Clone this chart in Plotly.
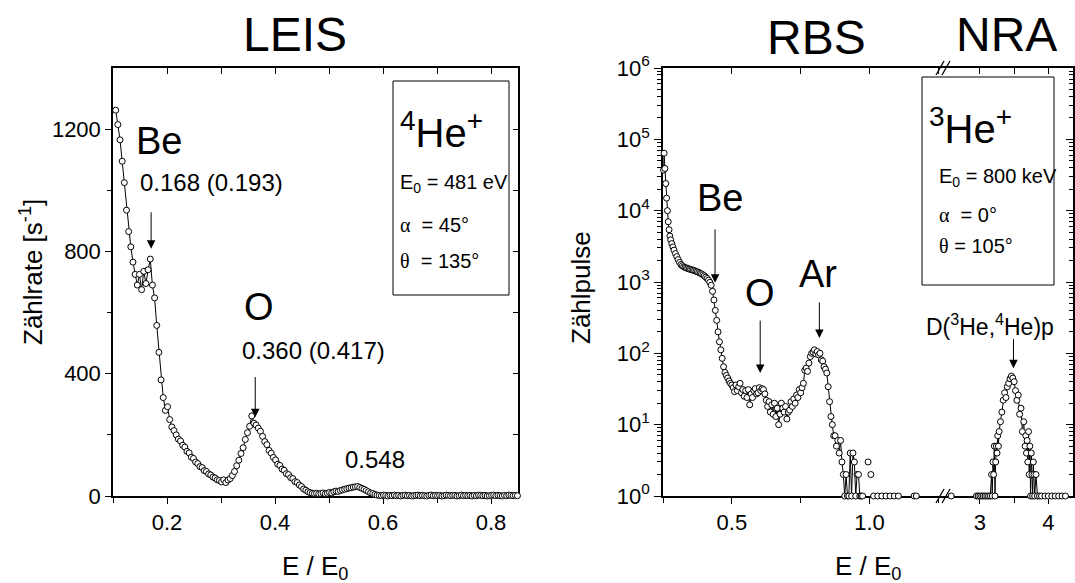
import math
import plotly.graph_objects as go

W, H = 1075, 583
FONT = "Liberation Sans, Arial, sans-serif"

# ---------------- data ----------------
# LEIS (left panel)
leis_x = [
    0.105, 0.109, 0.113, 0.117, 0.121, 0.125, 0.129, 0.133, 0.137, 0.141,
    0.145, 0.149, 0.153, 0.157, 0.161, 0.165, 0.169, 0.173, 0.177, 0.181,
    0.185, 0.189, 0.193, 0.197, 0.201, 0.205, 0.209, 0.213, 0.217, 0.221,
    0.225, 0.229, 0.233, 0.237, 0.241, 0.245, 0.249, 0.253, 0.257, 0.261,
    0.265, 0.269, 0.273, 0.277, 0.281, 0.285, 0.289, 0.293, 0.297, 0.301,
    0.305, 0.309, 0.313, 0.317, 0.321, 0.325, 0.329, 0.333, 0.337, 0.341,
    0.345, 0.349, 0.353, 0.357, 0.361, 0.365, 0.369, 0.373, 0.377, 0.381,
    0.385, 0.389, 0.393, 0.397, 0.401, 0.405, 0.409, 0.413, 0.417, 0.421,
    0.425, 0.429, 0.433, 0.437, 0.441, 0.445, 0.449, 0.453, 0.457, 0.461,
    0.465, 0.469, 0.473, 0.477, 0.481, 0.485, 0.489, 0.493, 0.497, 0.501,
    0.505, 0.509, 0.513, 0.517, 0.521, 0.525, 0.529, 0.533, 0.537, 0.541,
    0.545, 0.549, 0.553, 0.557, 0.561, 0.565, 0.569, 0.573, 0.577, 0.581,
    0.585, 0.589, 0.593, 0.597, 0.601, 0.605, 0.609, 0.613, 0.617, 0.621,
    0.625, 0.629, 0.633, 0.637, 0.641, 0.645, 0.649, 0.653, 0.657, 0.661,
    0.665, 0.669, 0.673, 0.677, 0.681, 0.685, 0.689, 0.693, 0.697, 0.701,
    0.705, 0.709, 0.713, 0.717, 0.721, 0.725, 0.729, 0.733, 0.737, 0.741,
    0.745, 0.749, 0.753, 0.757, 0.761, 0.765, 0.769, 0.773, 0.777, 0.781,
    0.785, 0.789, 0.793, 0.797, 0.801, 0.805, 0.809, 0.813, 0.817, 0.821,
    0.825, 0.829, 0.833, 0.837, 0.841, 0.845, 0.849,
]
leis_y = [
    1262, 1215, 1165, 1095, 1025, 935, 865, 815, 765, 725,
    690, 725, 675, 735, 695, 740, 775, 690, 648, 558,
    470, 380, 322, 280, 292, 250, 226, 214, 200, 186,
    180, 166, 160, 146, 141, 127, 123, 111, 106, 96,
    93, 83, 80, 72, 69, 62, 59, 53, 51, 46,
    53, 44, 52, 57, 67, 80, 99, 117, 139, 158,
    185, 207, 228, 262, 238, 232, 222, 212, 195, 178,
    168, 149, 140, 126, 118, 104, 100, 88, 84, 73,
    70, 60, 57, 47, 44, 36, 31, 23, 19, 14,
    11, 9, 8, 9, 7, 8, 10, 7, 9, 12,
    10, 14, 16, 15, 18, 20, 22, 24, 26, 27,
    29, 30, 31, 28, 25, 22, 18, 14, 10, 8,
    5, 3, 2, 1, 3, 2, 0, 2, 1, 3,
    1, 2, 0, 2, 3, 1, 2, 0, 1, 2,
    3, 1, 2, 1, 0, 2, 3, 1, 2, 1,
    2, 0, 1, 3, 2, 1, 2, 2, 0, 1,
    3, 1, 2, 1, 2, 0, 2, 1, 3, 2,
    1, 2, 0, 1, 2, 3, 1, 2, 1, 0,
    2, 1, 3, 2, 1, 2, 1,
]

# RBS (right panel, left segment)
rbs_x = [
    0.252, 0.254, 0.257, 0.260, 0.263, 0.266, 0.269, 0.272, 0.275, 0.278,
    0.282, 0.286, 0.290, 0.295, 0.300, 0.305, 0.310, 0.315, 0.320, 0.325,
    0.330, 0.335, 0.340, 0.345, 0.350, 0.355, 0.360, 0.365, 0.370, 0.375,
    0.380, 0.385, 0.390, 0.395, 0.400, 0.405, 0.410, 0.415, 0.420, 0.425,
    0.430, 0.435, 0.440, 0.445, 0.450, 0.455, 0.460, 0.465, 0.470, 0.475,
    0.480, 0.485, 0.490, 0.495, 0.500, 0.505, 0.510, 0.515, 0.520, 0.525,
    0.530, 0.535, 0.540, 0.545, 0.550, 0.555, 0.560, 0.565, 0.570, 0.575,
    0.580, 0.585, 0.590, 0.595, 0.600, 0.605, 0.610, 0.615, 0.620, 0.625,
    0.630, 0.635, 0.640, 0.645, 0.650, 0.655, 0.660, 0.665, 0.670, 0.675,
    0.680, 0.685, 0.690, 0.695, 0.700, 0.705, 0.710, 0.715, 0.720, 0.725,
    0.730, 0.735, 0.740, 0.745, 0.750, 0.755, 0.760, 0.765, 0.770, 0.775,
    0.780, 0.785, 0.790, 0.795, 0.800, 0.805, 0.810, 0.815, 0.820, 0.825,
    0.830, 0.835, 0.840, 0.845, 0.850, 0.855, 0.860, 0.865, 0.870, 0.875,
    0.880, 0.885, 0.890, 0.895, 0.900, 0.905, 0.910, 0.915, 0.920, 0.925,
    0.930, 0.935, 0.940, 0.945, 0.950, 0.955, 0.960, 0.965, 0.970, 0.975,
    0.980, 0.995, 1.000, 1.005, 1.010, 1.015, 1.030, 1.045, 1.060, 1.075,
    1.090, 1.105, 1.120, 1.162, 1.170,
]
rbs_y = [
    37000, 64000, 39000, 24000, 15000, 10000, 7000, 5400, 4400, 3900,
    3450, 3100, 2800, 2500, 2270, 2060, 1880, 1760, 1690, 1630,
    1600, 1570, 1545, 1520, 1500, 1480, 1460, 1440, 1410, 1390,
    1360, 1330, 1300, 1260, 1220, 1170, 1120, 1060, 990, 900,
    740, 560, 400, 290, 200, 145, 112, 85, 65, 54,
    49, 45, 41, 38, 36, 33, 29, 36, 30, 34,
    38, 28, 31, 25, 30, 24, 31, 19, 27, 24,
    30, 32, 27, 28, 33, 30, 32, 31, 27, 22,
    18, 21, 15, 19, 14, 20, 13, 17, 10, 14,
    20, 17, 15, 18, 12, 15, 16, 21, 18, 23,
    20, 26, 24, 31, 28, 33, 38, 58, 62, 56,
    73, 90, 100, 104, 112, 98, 106, 95, 100, 81,
    78, 65, 60, 53, 34, 21, 13, 10, 7, 7,
    5, 6, 4, 6, 3, 2, 1, 2, 1, 1,
    4, 1, 4, 3, 1, 2, 2, 1, 1, 1,
    None, 3, None, 2, None, 1, 1, 1, 1, 1,
    1, 1, None, 1, 1,
]

# NRA (right panel, right segment)
nra_x = [
    2.58, 2.62, 2.95, 2.975, 3.0, 3.025, 3.05, 3.075, 3.1, 3.125,
    3.15, 3.17, 3.18, 3.19, 3.2, 3.21, 3.22, 3.23, 3.24, 3.25,
    3.26, 3.27, 3.28, 3.3, 3.32, 3.34, 3.36, 3.38, 3.4, 3.42,
    3.44, 3.46, 3.48, 3.5, 3.52, 3.54, 3.56, 3.58, 3.6, 3.62,
    3.64, 3.66, 3.67, 3.68, 3.69, 3.7, 3.71, 3.72, 3.73, 3.74,
    3.75, 3.76, 3.77, 3.78, 3.79, 3.8, 3.82, 3.84, 3.87, 3.9,
    3.95, 4.0, 4.05, 4.1, 4.15, 4.2, 4.25,
]
nra_y = [
    1, None, 1, 1, 1, 1, 1, 1, 1, 1,
    1, 2, 1, 3, 2, 5, 1, 3, 5, 4,
    7, 5, 8, 11, 15, 22, 28, 24, 34, 38,
    44, 48, 45, 40, 30, 22, 26, 14, 17, 8,
    11, 5, 7, 4, 6, 3, 8, 2, 5, 1,
    4, 2, 1, 3, 2, 1, 2, 1, 1, 1,
    1, 1, 1, 1, 1, 1, 1,
]

# tick labels
leis_xtick_vals = [0.2, 0.4, 0.6, 0.8]
leis_xtick_text = ["0.2", "0.4", "0.6", "0.8"]
leis_ytick_vals = [0, 400, 800, 1200]
leis_ytick_text = ["0", "400", "800", "1200"]
rbs_xtick_vals = [0.5, 1.0]
rbs_xtick_text = ["0.5", "1.0"]
nra_xtick_vals = [3, 4]
nra_xtick_text = ["3", "4"]
log_ytick_vals = [1, 10, 100, 1000, 10000, 100000, 1000000]
log_ytick_text = ["10<sup>0</sup>", "10<sup>1</sup>", "10<sup>2</sup>", "10<sup>3</sup>",
                  "10<sup>4</sup>", "10<sup>5</sup>", "10<sup>6</sup>"]

# arrows: (x, tip, tail)
leis_arrows = [(0.1706, 809, 933), (0.3634, 258, 394)]
rbs_arrows = [(0.439, 977, 5750), (0.603, 53, 302), (0.818, 164, 543)]
nra_arrows = [(3.49, 62, 166)]

# ---------------- layout geometry (pixels) ----------------
def px(x):
    return x / W

def py(y):
    return 1 - y / H

L_X0, L_X1 = 113, 518
R_X0, R_XB, R_X1 = 663, 943, 1073
Y_TOP, Y_BOT = 68, 496

fig = go.Figure()

mk = dict(symbol="circle", size=6, color="white", line=dict(color="black", width=1))
ln = dict(color="black", width=1)

fig.add_trace(go.Scatter(x=leis_x, y=leis_y, mode="lines+markers", marker=mk, line=ln,
                         xaxis="x", yaxis="y", cliponaxis=False, showlegend=False))
fig.add_trace(go.Scatter(x=rbs_x, y=rbs_y, mode="lines+markers", marker=mk, line=ln,
                         xaxis="x2", yaxis="y2", cliponaxis=False, showlegend=False))
fig.add_trace(go.Scatter(x=nra_x, y=nra_y, mode="lines+markers", marker=mk, line=ln,
                         xaxis="x3", yaxis="y2", cliponaxis=False, showlegend=False))

# empty traces so that the mirrored frame axes (top / right) get drawn
for xa, ya in (("x4", "y"), ("x", "y4"), ("x5", "y2"), ("x6", "y2"), ("x3", "y5")):
    fig.add_trace(go.Scatter(x=[], y=[], xaxis=xa, yaxis=ya, mode="lines",
                             showlegend=False, hoverinfo="skip"))

tickfont = dict(family=FONT, size=22, color="black")
base = dict(showline=True, linecolor="black", linewidth=1.5, showgrid=False, zeroline=False,
            tickcolor="black", tickwidth=1.2, tickfont=tickfont, layer="below traces",
            automargin=False, fixedrange=True)

LEIS_XR = [0.1, 0.85]
LEIS_YR = [0, 1400]
RBS_XR = [0.25, 1.267]
NRA_XR = [2.46, 4.36]
LOG_MINOR = [m * 10 ** d for d in range(6) for m in range(2, 10)]

fig.update_layout(
    template="none",
    width=W, height=H, autosize=False,
    margin=dict(l=0, r=0, t=0, b=0, pad=0),
    paper_bgcolor="white", plot_bgcolor="rgba(0,0,0,0)",
    showlegend=False,
    font=dict(family=FONT, color="black"),
    xaxis=dict(base, domain=[px(L_X0), px(L_X1)], range=LEIS_XR, anchor="y",
               tickmode="array", tickvals=leis_xtick_vals, ticktext=leis_xtick_text,
               ticks="outside", ticklen=6,
               minor=dict(tickmode="array", tickvals=[0.1, 0.3, 0.5, 0.7], ticks="outside",
                          ticklen=5, tickcolor="black", tickwidth=1.2)),
    yaxis=dict(base, domain=[py(Y_BOT), py(Y_TOP)], range=LEIS_YR, anchor="x",
               tickmode="array", tickvals=leis_ytick_vals, ticktext=leis_ytick_text,
               ticks="outside", ticklen=6,
               minor=dict(tickmode="array", tickvals=[200, 600, 1000], ticks="outside",
                          ticklen=4, tickcolor="black", tickwidth=1.2)),
    xaxis4=dict(base, overlaying="x", side="top", anchor="y", range=LEIS_XR,
                tickmode="array", tickvals=[0.1, 0.2, 0.3, 0.4, 0.5, 0.6, 0.7, 0.8],
                ticks="inside", ticklen=6, showticklabels=False),
    yaxis4=dict(base, overlaying="y", side="right", anchor="x", range=LEIS_YR,
                tickmode="array", tickvals=[200, 400, 600, 800, 1000, 1200],
                ticks="inside", ticklen=5, showticklabels=False),
    xaxis2=dict(base, domain=[px(R_X0), px(R_XB)], range=RBS_XR, anchor="y2",
                tickmode="array", tickvals=rbs_xtick_vals, ticktext=rbs_xtick_text,
                ticks="outside", ticklen=6,
                minor=dict(tickmode="array", tickvals=[0.25, 0.75, 1.25], ticks="outside",
                           ticklen=5, tickcolor="black", tickwidth=1.2)),
    xaxis3=dict(base, domain=[px(R_XB), px(R_X1)], range=NRA_XR, anchor="y2",
                tickmode="array", tickvals=nra_xtick_vals, ticktext=nra_xtick_text,
                ticks="outside", ticklen=6,
                minor=dict(tickmode="array", tickvals=[3.5], ticks="outside",
                           ticklen=5, tickcolor="black", tickwidth=1.2)),
    yaxis2=dict(base, domain=[py(Y_BOT), py(Y_TOP)], type="log", range=[0, 6], anchor="x2",
                tickmode="array", tickvals=log_ytick_vals, ticktext=log_ytick_text,
                ticks="outside", ticklen=7,
                minor=dict(tickmode="array", tickvals=LOG_MINOR,
                           ticks="outside", ticklen=4, tickcolor="black", tickwidth=1)),
    xaxis5=dict(base, overlaying="x2", side="top", anchor="y2", range=RBS_XR,
                tickmode="array", tickvals=[0.25, 0.5, 0.75, 1.0, 1.25],
                ticks="inside", ticklen=6, showticklabels=False),
    xaxis6=dict(base, overlaying="x3", side="top", anchor="y2", range=NRA_XR,
                tickmode="array", tickvals=[3, 3.5, 4],
                ticks="inside", ticklen=6, showticklabels=False),
    yaxis5=dict(base, overlaying="y2", side="right", anchor="x3", type="log", range=[0, 6],
                tickmode="array", tickvals=log_ytick_vals, ticks="inside", ticklen=7,
                showticklabels=False,
                minor=dict(tickmode="array", tickvals=LOG_MINOR,
                           ticks="inside", ticklen=4, tickcolor="black", tickwidth=1)),
)

# ---------------- text annotations ----------------
ann = []

def txt(text, x, y, size, xanchor="center", yanchor="middle", angle=0):
    ann.append(dict(text=text, x=px(x), y=py(y), xref="paper", yref="paper", showarrow=False,
                    font=dict(family=FONT, size=size, color="black"),
                    xanchor=xanchor, yanchor=yanchor, textangle=angle))

GREEK = "<span style='font-family:Liberation Serif, Times New Roman, serif'>%s</span>"

# panel titles
txt("LEIS", 295, 34, 48)
txt("RBS", 816, 37, 48)
txt("NRA", 1006, 34, 48)

# axis titles
txt("Zählrate [s<sup>-1</sup>]", 31, 272, 26, angle=-90)
txt("Zählpulse", 581, 288, 26, angle=-90)
txt("E / E<sub>0</sub>", 315, 567, 26)
txt("E / E<sub>0</sub>", 868, 567, 26)

# LEIS labels
txt("Be", 159, 141, 38)
txt("0.168 (0.193)", 211, 182, 24)
txt("O", 259, 307, 38)
txt("0.360 (0.417)", 313, 350, 24)
txt("0.548", 375, 459, 24)

# RBS / NRA labels
txt("Be", 720, 198, 38)
txt("O", 760, 293, 38)
txt("Ar", 818, 274, 38)
txt("D(<sup>3</sup>He,<sup>4</sup>He)p", 990, 325, 23)

# parameter boxes
txt("<sup>4</sup>He<sup>+</sup>", 398, 130, 40, xanchor="left")
txt("E<sub>0</sub> = 481 eV", 398, 184, 20, xanchor="left")
txt(GREEK % "α" + "  = 45°", 398, 225, 20, xanchor="left")
txt(GREEK % "θ" + "  = 135°", 398, 261, 20, xanchor="left")

txt("<sup>3</sup>He<sup>+</sup>", 927, 126, 40, xanchor="left")
txt("E<sub>0</sub> = 800 keV", 937, 177, 20, xanchor="left")
txt(GREEK % "α" + "  = 0°", 937, 215, 20, xanchor="left")
txt(GREEK % "θ" + " = 105°", 937, 246, 20, xanchor="left")

# arrows
def arrow(xref, yref, x, tip, tail, log=False):
    yt = math.log10(tip) if log else tip
    ya = math.log10(tail) if log else tail
    ann.append(dict(x=x, y=yt, ax=x, ay=ya, xref=xref, yref=yref, axref=xref, ayref=yref,
                    text="", showarrow=True, arrowhead=2, arrowsize=1.7, arrowwidth=1,
                    arrowcolor="black", standoff=0))

for a in leis_arrows:
    arrow("x", "y", *a)
for a in rbs_arrows:
    arrow("x2", "y2", *a, log=True)
for a in nra_arrows:
    arrow("x3", "y2", *a, log=True)

fig.update_layout(annotations=ann)

# ---------------- shapes: boxes and axis break ----------------
shapes = [
    dict(type="rect", xref="paper", yref="paper", x0=px(393), x1=px(509), y0=py(295), y1=py(81),
         line=dict(color="black", width=1), fillcolor="rgba(0,0,0,0)"),
    dict(type="rect", xref="paper", yref="paper", x0=px(922), x1=px(1054), y0=py(285), y1=py(77),
         line=dict(color="black", width=1), fillcolor="rgba(0,0,0,0)"),
]
for yb in (Y_BOT, Y_TOP):
    for xo in (-3, 3):
        shapes.append(dict(type="line", xref="paper", yref="paper",
                           x0=px(R_XB + xo - 4), y0=py(yb + 7),
                           x1=px(R_XB + xo + 4), y1=py(yb - 7),
                           line=dict(color="black", width=1.3)))
fig.update_layout(shapes=shapes)

fig.write_html("out.html", config={"displayModeBar": False},
               post_script="document.body.style.margin='0';")
